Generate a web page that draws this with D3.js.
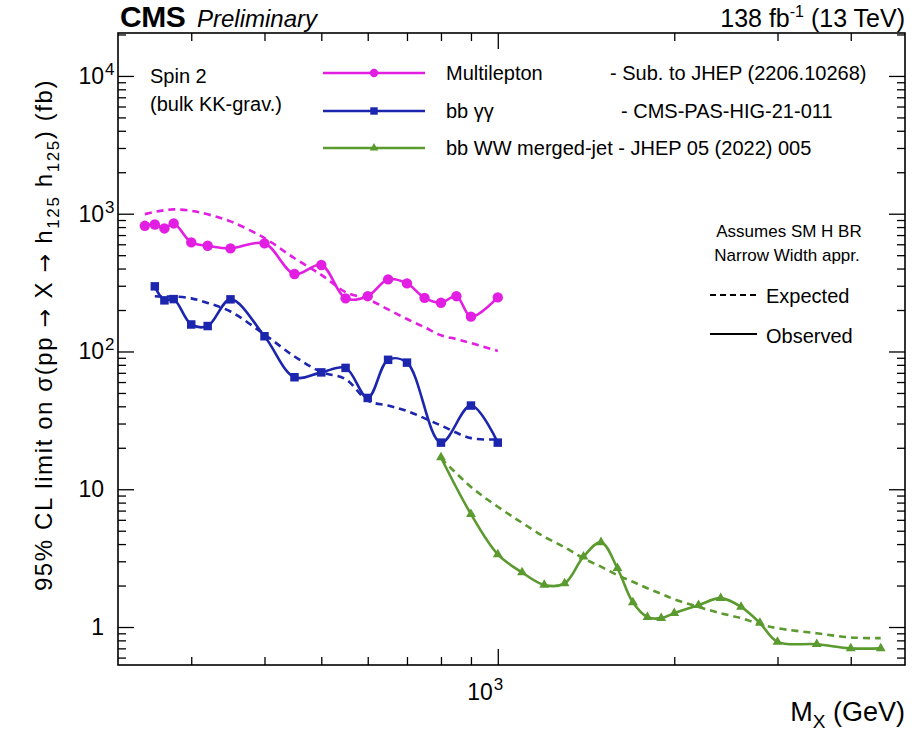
<!DOCTYPE html>
<html>
<head>
<meta charset="utf-8">
<script src="https://cdn.jsdelivr.net/npm/d3@7"></script>
<style>
  body { margin: 0; background: #fff; }
  svg { display: block; font-family: "Liberation Sans", Arial, Helvetica, sans-serif; }
</style>
</head>
<body>
<svg id="chart" width="912" height="731"></svg>
<script>
// ---------------- data ----------------
const mlMass = [250,260,270,280,300,320,350,400,450,500,550,600,650,700,750,800,850,900,1000];
const mlObs  = [817,835,782,850,619,585,560,609,365,424,243,252,334,312,245,226,252,179,247];
const mlExp  = [993,1030,1060,1075,1050,990,880,665,475,360,270,240,202,172,150,131,123,115,101];

const bgMass = [260,270,280,300,320,350,400,450,500,550,600,650,700,800,900,1000];
const bgObs  = [297,235,240,157,153,239,129,65,70.5,76,46,87,83,21.8,40.5,21.8];
const bgExp  = [252,250,251,243,225,195,133,92,71,63,44,40.5,37,29,23.5,23];

const wwMass = [800,900,1000,1100,1200,1300,1400,1500,1600,1700,1800,1900,2000,2200,2400,2600,2800,3000,3500,4000,4500];
const wwObs  = [17.0,6.6,3.37,2.49,2.02,2.07,3.24,4.12,2.67,1.51,1.18,1.16,1.26,1.44,1.62,1.40,1.07,0.78,0.75,0.70,0.70];
const wwExp  = [16.8,10.4,7.46,5.71,4.52,3.79,3.15,2.74,2.38,2.13,1.91,1.74,1.59,1.40,1.26,1.16,1.05,0.98,0.90,0.84,0.83];

const xMajor = [1000];
const xMinor = [300,400,500,600,700,800,900,2000,3000,4000];
const yMajor = [1,10,100,1000,10000];
const yMajorLabels = [["1",""],["10",""],["10","2"],["10","3"],["10","4"]];

const seriesNames = ["Multilepton", "bb \u03b3\u03b3", "bb WW merged-jet - JHEP 05 (2022) 005"];
const seriesRefs  = ["- Sub. to JHEP (2206.10268)", "- CMS-PAS-HIG-21-011", ""];

// ---------------- layout ----------------
const L = 118, R = 905, T = 33, B = 665;
const svg = d3.select("#chart");
const x = d3.scaleLog().domain([225, 4950]).range([L, R]);
const y = d3.scaleLog().domain([0.53, 20500]).range([B, T]);

const colors = {ml: "#e31ee3", bg: "#1b25ad", ww: "#5a9a2e"};

// minor y ticks
const yMinor = [];
for (let e = -1; e <= 4; e++) for (let k = 2; k <= 9; k++) {
  const v = k * Math.pow(10, e);
  if (v > 0.53 && v < 20500) yMinor.push(v);
}

// axes (ticks inward on all four sides)
function addAxis(gen, tr) {
  const g = svg.append("g").attr("transform", tr).call(gen);
  g.select(".domain").remove();
  g.selectAll("line").attr("stroke", "#000").attr("stroke-width", 1.3);
  g.selectAll("text").remove();
  return g;
}
addAxis(d3.axisBottom(x).tickValues(xMajor).tickSize(-16), `translate(0,${B})`);
addAxis(d3.axisBottom(x).tickValues(xMinor).tickSize(-8), `translate(0,${B})`);
addAxis(d3.axisTop(x).tickValues(xMajor).tickSize(-16), `translate(0,${T})`);
addAxis(d3.axisTop(x).tickValues(xMinor).tickSize(-8), `translate(0,${T})`);
addAxis(d3.axisLeft(y).tickValues(yMajor).tickSize(-16), `translate(${L},0)`);
addAxis(d3.axisLeft(y).tickValues(yMinor).tickSize(-8), `translate(${L},0)`);
addAxis(d3.axisRight(y).tickValues(yMajor).tickSize(-16), `translate(${R},0)`);
addAxis(d3.axisRight(y).tickValues(yMinor).tickSize(-8), `translate(${R},0)`);

// frame
svg.append("rect").attr("x", L).attr("y", T).attr("width", R - L).attr("height", B - T)
  .attr("fill", "none").attr("stroke", "#000").attr("stroke-width", 1.6);

// y tick labels
yMajor.forEach((v, i) => {
  const [base, sup] = yMajorLabels[i];
  svg.append("text").attr("x", 104).attr("y", y(v) + 8)
    .attr("text-anchor", "end").attr("font-size", 23).text(base);
  if (sup) svg.append("text").attr("x", 105).attr("y", y(v) - 1)
    .attr("font-size", 17).text(sup);
});
// x tick label
xMajor.forEach(v => {
  svg.append("text").attr("x", x(v) - 5).attr("y", 700)
    .attr("text-anchor", "end").attr("font-size", 23).text("10");
  svg.append("text").attr("x", x(v) - 4).attr("y", 690)
    .attr("font-size", 17).text("3");
});

// axis titles
const xt = svg.append("text").attr("x", R).attr("y", 721).attr("text-anchor", "end").attr("font-size", 27);
xt.append("tspan").text("M");
xt.append("tspan").attr("dy", 7).attr("font-size", 19).text("X");
xt.append("tspan").attr("dy", -7).text(" (GeV)");

const yt = svg.append("text").attr("transform", "translate(52,335) rotate(-90)")
  .attr("text-anchor", "middle").attr("font-size", 24).attr("letter-spacing", 1.6);
const arrow = () => yt.append("tspan").attr("font-family", "DejaVu Sans").attr("font-size", 22).text(" \u2192 ");
yt.append("tspan").text("95% CL limit on \u03c3(pp");
arrow();
yt.append("tspan").text("X");
arrow();
yt.append("tspan").text("h");
yt.append("tspan").attr("dy", 7).attr("font-size", 17).text("125");
yt.append("tspan").attr("dy", -7).text(" h");
yt.append("tspan").attr("dy", 7).attr("font-size", 17).text("125");
yt.append("tspan").attr("dy", -7).text(") (fb)");

// header
svg.append("text").attr("x", 120).attr("y", 27).attr("font-size", 30)
  .attr("font-weight", "bold").attr("letter-spacing", -0.5).text("CMS");
svg.append("text").attr("x", 197).attr("y", 27).attr("font-size", 24)
  .attr("font-style", "italic").text("Preliminary");
const lumi = svg.append("text").attr("x", R).attr("y", 27).attr("text-anchor", "end").attr("font-size", 25);
lumi.append("tspan").text("138 fb");
lumi.append("tspan").attr("dy", -10).attr("font-size", 16).text("-1");
lumi.append("tspan").attr("dy", 10).text(" (13 TeV)");

// ---------------- curves ----------------
const curve = d3.curveCatmullRom.alpha(0.5);
function drawSeries(mass, vals, color, dashed) {
  const line = d3.line().x((d, i) => x(mass[i])).y(d => y(d)).curve(curve);
  svg.append("path").datum(vals).attr("d", line)
    .attr("fill", "none").attr("stroke", color).attr("stroke-width", 2.6)
    .attr("stroke-dasharray", dashed ? "7,5" : null);
}
function drawMarkers(mass, vals, color, shape, size) {
  svg.append("g").selectAll("path").data(vals).join("path")
    .attr("transform", (d, i) => `translate(${x(mass[i])},${y(d)})`)
    .attr("d", d3.symbol().type(shape).size(size))
    .attr("fill", color);
}
drawSeries(mlMass, mlExp, colors.ml, true);
drawSeries(bgMass, bgExp, colors.bg, true);
drawSeries(wwMass, wwExp, colors.ww, true);
drawSeries(mlMass, mlObs, colors.ml, false);
drawSeries(bgMass, bgObs, colors.bg, false);
drawSeries(wwMass, wwObs, colors.ww, false);
drawMarkers(mlMass, mlObs, colors.ml, d3.symbolCircle, 85);
drawMarkers(bgMass, bgObs, colors.bg, d3.symbolSquare, 72);
drawMarkers(wwMass, wwObs, colors.ww, d3.symbolTriangle, 42);

// ---------------- legend ----------------
const legY = [73, 111, 148];
const legColors = [colors.ml, colors.bg, colors.ww];
const legShapes = [d3.symbolCircle, d3.symbolSquare, d3.symbolTriangle];
const legSizes = [55, 55, 32];
seriesNames.forEach((name, i) => {
  svg.append("line").attr("x1", 323).attr("x2", 425).attr("y1", legY[i]).attr("y2", legY[i])
    .attr("stroke", legColors[i]).attr("stroke-width", 2.6);
  svg.append("path").attr("transform", `translate(374,${legY[i]})`)
    .attr("d", d3.symbol().type(legShapes[i]).size(legSizes[i])).attr("fill", legColors[i]);
  svg.append("text").attr("x", 446).attr("y", legY[i] + 7).attr("font-size", 20).text(name);
  if (seriesRefs[i]) {
    svg.append("text").attr("x", i === 0 ? 610 : 621).attr("y", legY[i] + 7).attr("font-size", 20).text(seriesRefs[i]);
  }
});

svg.append("text").attr("x", 150).attr("y", 83).attr("font-size", 20).text("Spin 2");
svg.append("text").attr("x", 150).attr("y", 111).attr("font-size", 20).text("(bulk KK-grav.)");

svg.append("text").attr("x", 789).attr("y", 237).attr("text-anchor", "middle").attr("font-size", 17).text("Assumes SM H BR");
svg.append("text").attr("x", 787).attr("y", 261).attr("text-anchor", "middle").attr("font-size", 17).text("Narrow Width appr.");

svg.append("line").attr("x1", 710).attr("x2", 757).attr("y1", 295).attr("y2", 295)
  .attr("stroke", "#000").attr("stroke-width", 2).attr("stroke-dasharray", "6,4");
svg.append("text").attr("x", 766).attr("y", 303).attr("font-size", 20).text("Expected");
svg.append("line").attr("x1", 710).attr("x2", 757).attr("y1", 334).attr("y2", 334)
  .attr("stroke", "#000").attr("stroke-width", 2);
svg.append("text").attr("x", 766).attr("y", 343).attr("font-size", 20).text("Observed");
</script>
</body>
</html>
